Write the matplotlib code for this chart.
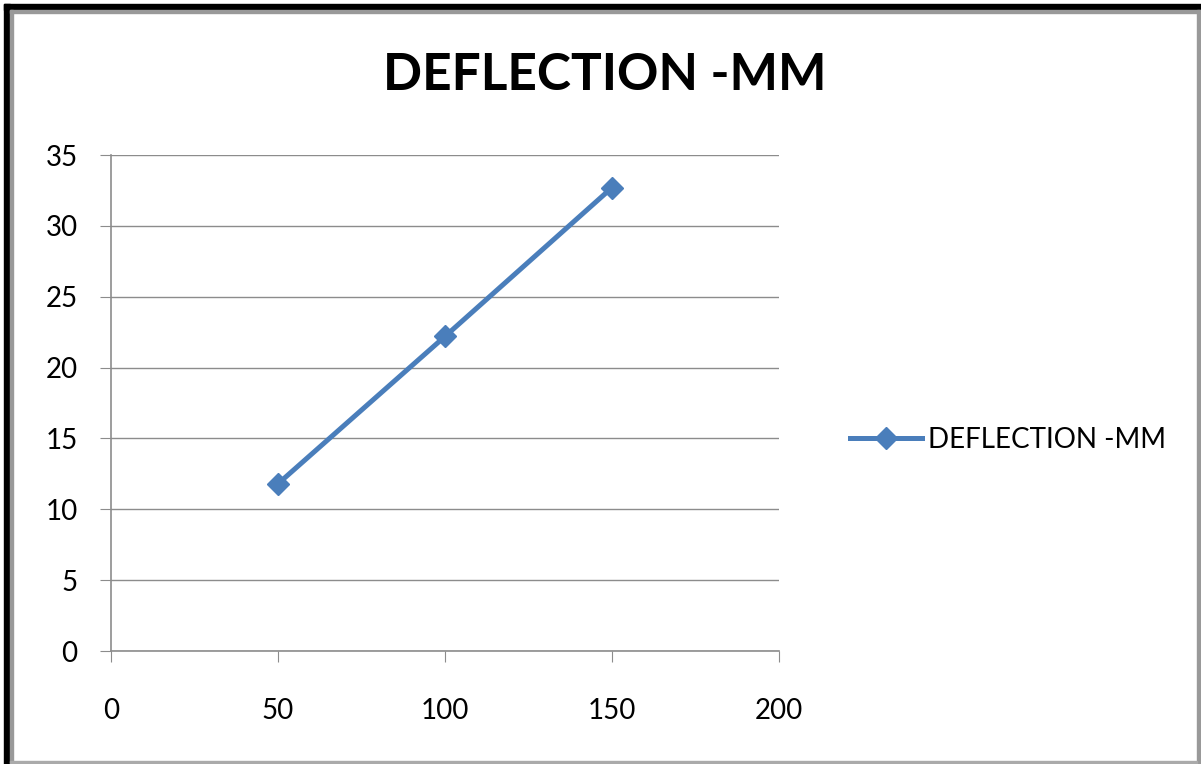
import matplotlib.pyplot as plt
from matplotlib.patches import Rectangle
from matplotlib.lines import Line2D

# Deflection data
loads = [50, 100, 150]
deflection = [11.8, 22.2, 32.7]
series_name = "DEFLECTION -MM"

plt.rcParams['font.family'] = ['Lato', 'DejaVu Sans']

fig = plt.figure(figsize=(12.01, 7.64), dpi=100)
ax = fig.add_axes([111 / 1201, 1 - 651 / 764, 668 / 1201, 496 / 764])

blue = "#4a7ebb"
ax.plot(loads, deflection, color=blue, linewidth=3.6, marker="D", markersize=11,
        label=series_name)

ax.set_xlim(0, 200)
ax.set_ylim(0, 35)
ax.set_xticks(range(0, 201, 50))
ax.set_yticks(range(0, 36, 5))
ax.grid(axis="y", color="#8c8c8c", linewidth=1)
ax.set_axisbelow(True)
for s in ["top", "right"]:
    ax.spines[s].set_visible(False)
for s in ["left", "bottom"]:
    ax.spines[s].set_color("#8c8c8c")
    ax.spines[s].set_linewidth(1.2)
ax.tick_params(axis="both", direction="out", length=8, color="#8c8c8c",
               labelsize=20, pad=6)
ax.tick_params(axis="x", pad=26)
ax.tick_params(axis="y", pad=16)

fig.text(605 / 1201, 1 - 76 / 764, series_name, ha="center", va="center",
         fontsize=37, fontweight="bold")

handle = Line2D([], [], color=blue, linewidth=3.6, marker="D", markersize=11)
fig.legend([handle], [series_name], loc="center left",
           bbox_to_anchor=(825 / 1201, 1 - 440 / 764), frameon=False,
           fontsize=20, handlelength=2.6, handletextpad=0.2)

# outer frame: black top/left, gray inner and right/bottom
W, H = 1201, 764
fig.patches.append(Rectangle((4 / W, 0), 6 / W, 1 - 4 / H, transform=fig.transFigure,
                             color="black", zorder=10))
fig.patches.append(Rectangle((4 / W, 1 - 10 / H), 1 - 4 / W, 6 / H,
                             transform=fig.transFigure, color="black", zorder=10))
fig.patches.append(Rectangle((10 / W, 0), 3 / W, 1 - 10 / H, transform=fig.transFigure,
                             color="#999999", zorder=10))
fig.patches.append(Rectangle((10 / W, 1 - 13 / H), 1 - 10 / W, 3 / H,
                             transform=fig.transFigure, color="#999999", zorder=10))
fig.patches.append(Rectangle((1 - 4 / W, 0), 3 / W, 1 - 10 / H, transform=fig.transFigure,
                             color="#999999", zorder=10))
fig.patches.append(Rectangle((10 / W, 1 / H), 1 - 14 / W, 2 / H,
                             transform=fig.transFigure, color="#aaaaaa", zorder=10))

fig.savefig("out.png", dpi=100)
